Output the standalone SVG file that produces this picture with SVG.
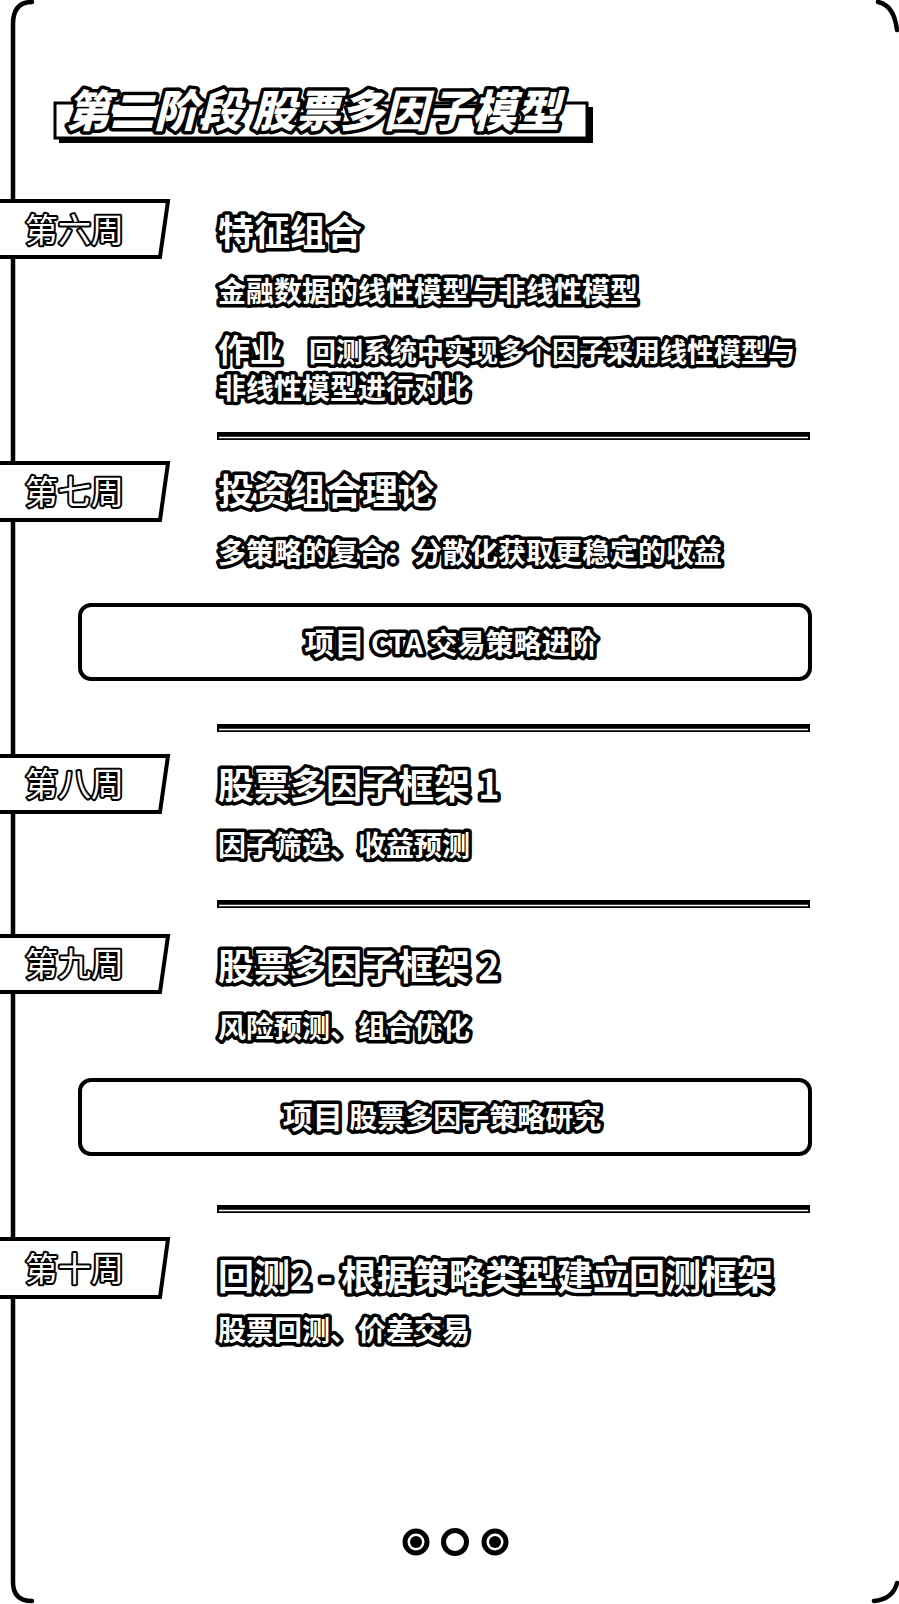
<svg xmlns="http://www.w3.org/2000/svg" width="899" height="1604" viewBox="0 0 899 1604">
<style>
.t{font-family:"Noto Sans CJK SC","Noto Sans",sans-serif;fill:#fff;stroke:#000;paint-order:stroke;stroke-linejoin:round}
.title{font-size:44px;font-weight:900;stroke-width:7;font-style:italic}
.tab{font-size:33px;font-weight:400;stroke-width:4}
.h{font-size:36px;font-weight:700;stroke-width:7}
.b{font-size:28px;font-weight:700;stroke-width:7}
.k{font-size:32px;font-weight:700;stroke-width:7}
.pk{font-size:30px;font-weight:700;stroke-width:7}
.tabshape{fill:#fff;stroke:#000;stroke-width:4;stroke-linejoin:miter}
.box{fill:#fff;stroke:#000;stroke-width:4}
.frame{fill:none;stroke:#000;stroke-width:4.5;stroke-linecap:round}
</style>
<g id="frame">
<path class="frame" d="M32,2 Q13,2 13,24 V1582 Q13,1601 32,1601"/>
<path class="frame" d="M878,2 Q894,5 897,30"/>
<path class="frame" d="M874,1601 Q893,1599 897,1583"/>
</g>
<g id="title">
<rect x="59" y="107" width="534" height="36" fill="#000"/>
<rect x="55" y="103" width="532" height="35" fill="#fff" stroke="#000" stroke-width="3"/>
<text class="t title" x="66" y="127">第二阶段 股票多因子模型</text>
</g>
<g id="connectors">
<rect x="217" y="432" width="593" height="8" fill="#000"/><line x1="219" y1="437.5" x2="808" y2="437.5" stroke="#fff" stroke-width="1.5"/>
<rect x="217" y="724" width="593" height="8" fill="#000"/><line x1="219" y1="729.5" x2="808" y2="729.5" stroke="#fff" stroke-width="1.5"/>
<rect x="217" y="900" width="593" height="8" fill="#000"/><line x1="219" y1="905.5" x2="808" y2="905.5" stroke="#fff" stroke-width="1.5"/>
<rect x="217" y="1205" width="593" height="8" fill="#000"/><line x1="219" y1="1210.5" x2="808" y2="1210.5" stroke="#fff" stroke-width="1.5"/>
</g>
<g id="week6">
<path class="tabshape" d="M0,201 H168 L160,257 H0"/>
<text class="t tab" x="25" y="242">第六周</text>
<text class="t h" x="218" y="246">特征组合</text>
<text class="t b" x="218" y="302">金融数据的线性模型与非线性模型</text>
<text class="t k" x="218" y="362">作业</text>
<text class="t b" x="309" y="362" style="font-size:27px">回测系统中实现多个因子采用线性模型与</text>
<text class="t b" x="218" y="399">非线性模型进行对比</text>
</g>
<g id="week7">
<path class="tabshape" d="M0,463 H168 L160,520 H0"/>
<text class="t tab" x="25" y="504">第七周</text>
<text class="t h" x="218" y="505">投资组合理论</text>
<text class="t b" x="218" y="563">多策略的复合：分散化获取更稳定的收益</text>
</g>
<g id="project1">
<rect class="box" x="80" y="605" width="730" height="74" rx="11"/>
<text class="t b" x="451" y="654" text-anchor="middle"><tspan class="pk">项目</tspan> CTA 交易策略进阶</text>
</g>
<g id="week8">
<path class="tabshape" d="M0,756 H168 L160,812 H0"/>
<text class="t tab" x="25" y="796">第八周</text>
<text class="t h" x="218" y="799">股票多因子框架 1</text>
<text class="t b" x="218" y="856">因子筛选、收益预测</text>
</g>
<g id="week9">
<path class="tabshape" d="M0,936 H168 L160,992 H0"/>
<text class="t tab" x="25" y="976">第九周</text>
<text class="t h" x="218" y="980">股票多因子框架 2</text>
<text class="t b" x="218" y="1038">风险预测、组合优化</text>
</g>
<g id="project2">
<rect class="box" x="80" y="1080" width="730" height="74" rx="11"/>
<text class="t b" x="442" y="1128" text-anchor="middle"><tspan class="pk">项目</tspan> 股票多因子策略研究</text>
</g>
<g id="week10">
<path class="tabshape" d="M0,1239 H168 L160,1297 H0"/>
<text class="t tab" x="25" y="1281">第十周</text>
<text class="t h" x="218" y="1290">回测2 - 根据策略类型建立回测框架</text>
<text class="t b" x="218" y="1341">股票回测、价差交易</text>
</g>
<g id="pager">
<circle cx="416" cy="1542" r="11" fill="#fff" stroke="#000" stroke-width="5"/>
<circle cx="416" cy="1542" r="6" fill="#000"/>
<circle cx="455" cy="1542" r="11.5" fill="#fff" stroke="#000" stroke-width="5"/>
<circle cx="495" cy="1542" r="11" fill="#fff" stroke="#000" stroke-width="5"/>
<circle cx="495" cy="1542" r="6" fill="#000"/>
</g>
</svg>
